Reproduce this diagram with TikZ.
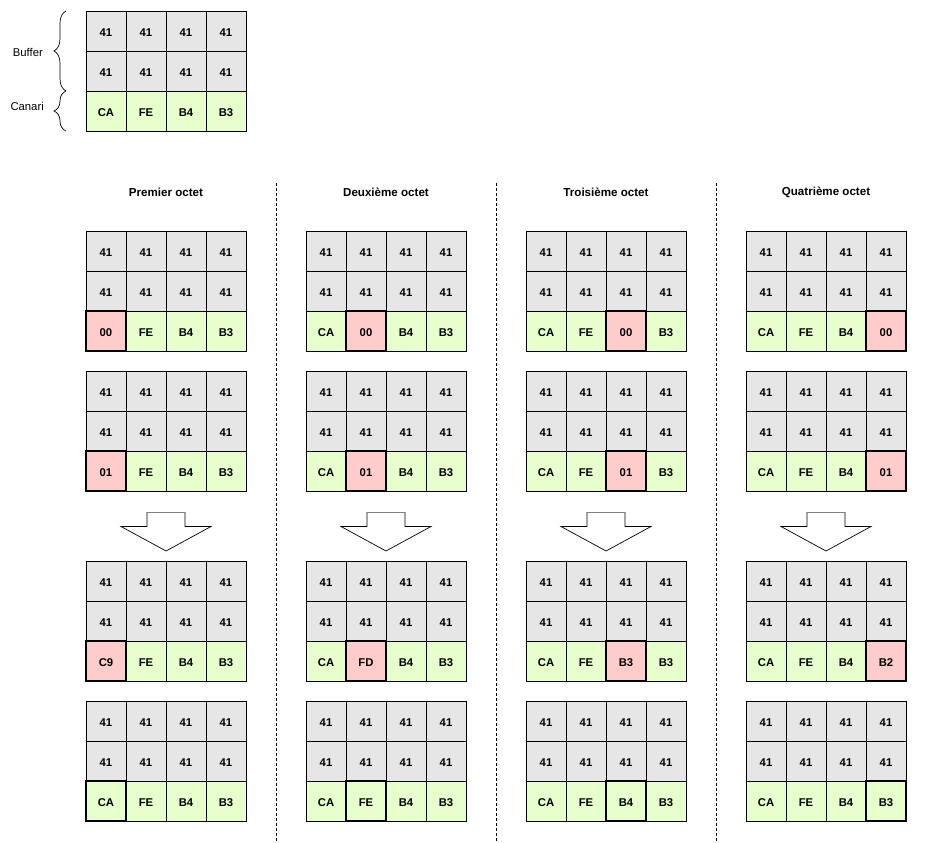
\documentclass[tikz,border=0pt]{standalone}
\usepackage{fontspec}
\setmainfont{Liberation Sans}
\usetikzlibrary{decorations.pathreplacing}
\definecolor{gris}{HTML}{E6E6E6}
\definecolor{vert}{HTML}{E6FFCC}
\definecolor{rouge}{HTML}{FFCCCC}
\tikzset{
  cell/.style={draw, minimum size=40pt, inner sep=0pt, line width=0.8pt,
    text height=10.6pt, text depth=0pt,
    font=\fontsize{11.3}{13}\selectfont\bfseries},
  hl/.style={draw, line width=2pt},
  title/.style={font=\fontsize{11.6}{13}\selectfont\bfseries},
  lbl/.style={font=\fontsize{11.3}{13}\selectfont, anchor=east, inner sep=0pt},
  sep/.style={line width=0.8pt, dash pattern=on 3pt off 2pt},
  bigarrow/.style={draw, fill=white, line width=0.7pt},
  mybrace/.style={decorate, decoration={brace, amplitude=12pt}, line width=0.7pt}
}
% #1 name, #2 x, #3 y, #4 list value/fill, #5 highlighted index (or -1)
\newcommand\mygrid[5]{%
  \foreach \r in {0,1}{\foreach \c in {0,1,2,3}{%
    \node[cell,fill=gris] (#1-\r-\c) at ({#2+20+40*\c},{#3+20+40*\r}) {41};}}
  \foreach \v/\f [count=\c from 0] in {#4}{%
    \node[cell,fill=\f] (#1-2-\c) at ({#2+20+40*\c},{#3+100}) {\v};}
  \ifnum#5>-1
    \draw[hl] (#1-2-#5.south west) rectangle (#1-2-#5.north east);
  \fi
}
\begin{document}
\begin{tikzpicture}[x=1pt,y=-1pt]
\useasboundingbox (0,0) rectangle (938,843);
% top reference grid
\mygrid{ref}{86}{11}{CA/vert,FE/vert,B4/vert,B3/vert}{-1}
\coordinate (bb) at (66,91);
\coordinate (bt) at (66,11);
\coordinate (cb) at (66,131);
\draw[mybrace] (bb) -- (bt);
\draw[mybrace] (cb) -- (bb);
\node[lbl] (buf) at (43,52) {Buffer};
\node[lbl] (can) at (44,106) {Canari};
% columns
\foreach \k/\ttl [count=\i from 0] in
  {0/Premier octet, 1/Deuxième octet, 2/Troisième octet, 3/Quatrième octet}{%
  \pgfmathsetmacro\X{86+220*\k}
  \pgfmathsetmacro\C{\X+80}
  \node[title] (t\k) at (\C,192) {\ttl};
  \ifcase\k
    \mygrid{a\k}{\X}{231}{00/rouge,FE/vert,B4/vert,B3/vert}{0}
    \mygrid{b\k}{\X}{371}{01/rouge,FE/vert,B4/vert,B3/vert}{0}
    \mygrid{c\k}{\X}{561}{C9/rouge,FE/vert,B4/vert,B3/vert}{0}
    \mygrid{d\k}{\X}{701}{CA/vert,FE/vert,B4/vert,B3/vert}{0}
  \or
    \mygrid{a\k}{\X}{231}{CA/vert,00/rouge,B4/vert,B3/vert}{1}
    \mygrid{b\k}{\X}{371}{CA/vert,01/rouge,B4/vert,B3/vert}{1}
    \mygrid{c\k}{\X}{561}{CA/vert,FD/rouge,B4/vert,B3/vert}{1}
    \mygrid{d\k}{\X}{701}{CA/vert,FE/vert,B4/vert,B3/vert}{1}
  \or
    \mygrid{a\k}{\X}{231}{CA/vert,FE/vert,00/rouge,B3/vert}{2}
    \mygrid{b\k}{\X}{371}{CA/vert,FE/vert,01/rouge,B3/vert}{2}
    \mygrid{c\k}{\X}{561}{CA/vert,FE/vert,B3/rouge,B3/vert}{2}
    \mygrid{d\k}{\X}{701}{CA/vert,FE/vert,B4/vert,B3/vert}{2}
  \or
    \mygrid{a\k}{\X}{231}{CA/vert,FE/vert,B4/vert,00/rouge}{3}
    \mygrid{b\k}{\X}{371}{CA/vert,FE/vert,B4/vert,01/rouge}{3}
    \mygrid{c\k}{\X}{561}{CA/vert,FE/vert,B4/vert,B2/rouge}{3}
    \mygrid{d\k}{\X}{701}{CA/vert,FE/vert,B4/vert,B3/vert}{3}
  \fi
  \draw[bigarrow] (\C+19,512) -- (\C+19,526.5) -- (\C+45,526.5)
     -- (\C,551) -- (\C-45,526.5) -- (\C-19,526.5) -- (\C-19,512);
  \draw[line width=1pt, gray] (\C-19,512) -- (\C+19,512);
}
% separators
\foreach \x [count=\j] in {276,496,716}{%
  \coordinate (s\j a) at (\x,183);
  \coordinate (s\j b) at (\x,841);
  \draw[sep] (s\j a) -- (s\j b);
}
\end{tikzpicture}
\end{document}
